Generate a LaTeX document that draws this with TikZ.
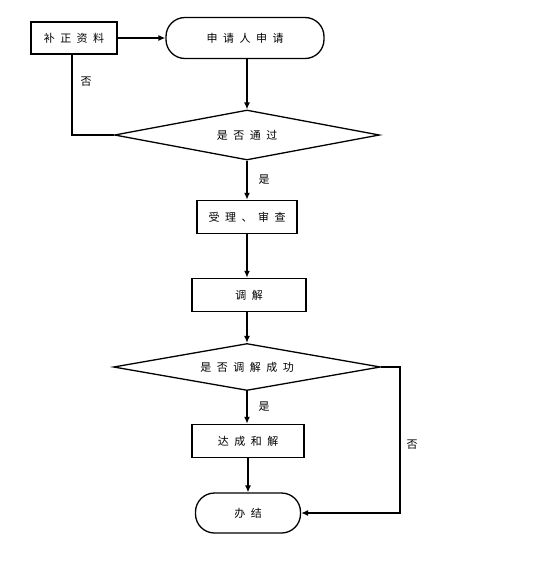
\documentclass[tikz,border=0pt]{standalone}
\usepackage{fontspec}
\newfontfamily\cjk[LetterSpace=50]{Noto Sans CJK SC}
\usetikzlibrary{shapes.geometric,arrows.meta}
\begin{document}
\begin{tikzpicture}[x=1pt,y=-1pt,
  font=\cjk\fontsize{11}{13}\selectfont,
  box/.style={draw, line width=1.5pt, inner sep=0pt},
  term/.style={draw, line width=1.3pt, rounded corners=19pt, inner sep=0pt},
  dia/.style={draw, diamond, line width=1.3pt, inner sep=0pt, aspect=5},
  conn/.style={line width=1.3pt},
  arr/.style={conn, -{Latex[length=7pt,width=6pt]}},
  lbl/.style={inner sep=0pt}]
\useasboundingbox (0,0) rectangle (549,563);
\node[box, minimum width=86pt, minimum height=32pt] (bz) at (74,38) {补正资料};
\node[term, minimum width=158pt, minimum height=41pt] (sq) at (245,38) {申请人申请};
\node[dia, minimum width=265pt, minimum height=50pt] (d1) at (247,135) {是否通过};
\node[box, minimum width=100pt, minimum height=33pt] (sl) at (247,217) {受理、审查};
\node[box, minimum width=114pt, minimum height=33pt] (tj) at (249,295) {调解};
\node[dia, minimum width=267pt, minimum height=47pt] (d2) at (247,367) {是否调解成功};
\node[box, minimum width=112pt, minimum height=33pt] (dc) at (248,441) {达成和解};
\node[term, minimum width=105pt, minimum height=40pt] (bj) at (248,513) {办结};
\coordinate (c1) at (72,135);
\coordinate (c2) at (400,367);
\draw[arr] (bz) -- (sq);
\draw[arr] (d1.north |- sq.south) -- (d1.north);
\draw[conn] (d1.west) -- (c1) -- (c1 |- bz.south);
\draw[arr] (d1.south) -- (d1.south |- sl.north);
\draw[arr] (sl.south) -- (sl.south |- tj.north);
\draw[arr] (d2.north |- tj.south) -- (d2.north);
\draw[arr] (d2.south) -- (d2.south |- dc.north);
\draw[arr] (bj.north |- dc.south) -- (bj.north);
\draw[arr] (d2.east) -- (c2) -- (c2 |- bj.east) -- (bj.east);
\node[lbl] (n1) at (86,82) {否};
\node[lbl] (y1) at (264,180) {是};
\node[lbl] (y2) at (264,407) {是};
\node[lbl] (n2) at (412,445) {否};
\end{tikzpicture}
\end{document}
